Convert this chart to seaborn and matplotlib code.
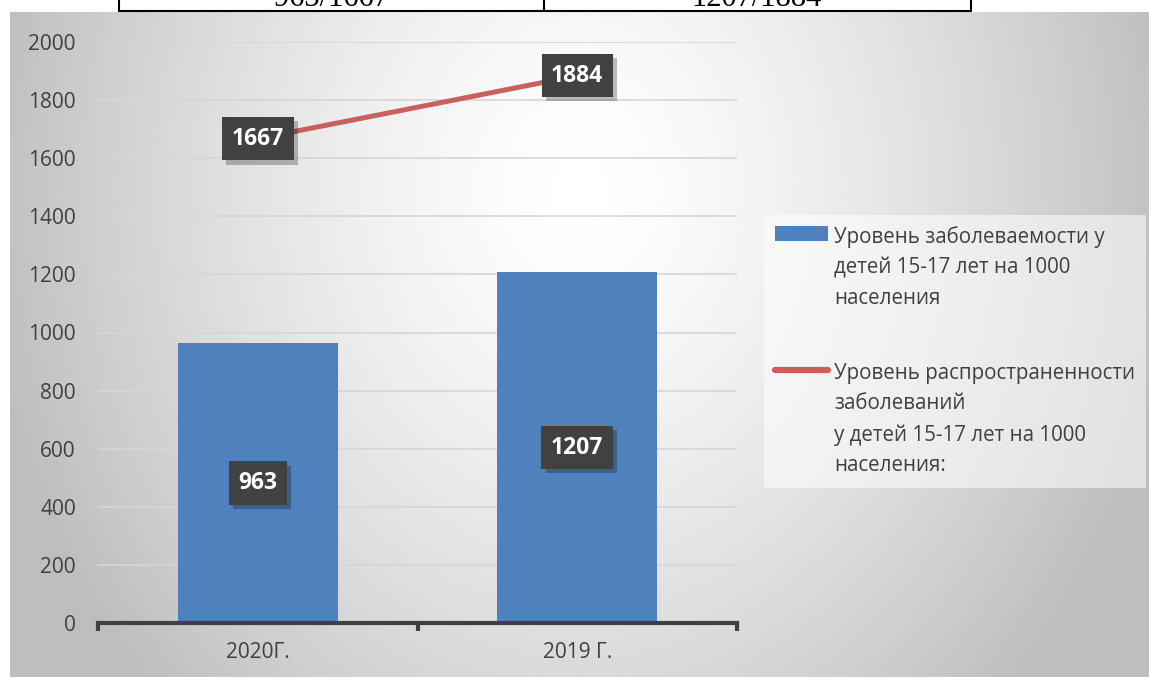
import numpy as np
import matplotlib
matplotlib.use("Agg")
import matplotlib.pyplot as plt
import seaborn as sns
import matplotlib.patheffects as pe
from matplotlib.lines import Line2D
from matplotlib.patches import Patch

# ---------------- data ----------------
years = ["2020Г.", "2019 Г."]
incidence = [963, 1207]
prevalence = [1667, 1884]
series_names = [
    "Уровень заболеваемости у\nдетей 15-17 лет на 1000\nнаселения",
    "Уровень распространенности\nзаболеваний\nу детей 15-17 лет на 1000\nнаселения:",
]
table_cells = ["963/1667", "1207/1884"]
yticks = list(range(0, 2001, 200))

BAR_COLOR = "#4f81bd"
LINE_COLOR = "#c9605c"
TEXT_COLOR = "#404040"

sns.set_theme(style="white")
plt.rcParams["font.family"] = ["Open Sans", "DejaVu Sans"]

W, H = 1149, 677
fig = plt.figure(figsize=(W / 100, H / 100), dpi=100)
fig.patch.set_facecolor("white")

# ---------------- gradient background ----------------
bg = fig.add_axes([10 / W, 0, 1 - 10 / W, (H - 12) / H], zorder=-10)
xs = np.linspace(10, W, 400)
ys = np.linspace(12, H, 300)
X, Y = np.meshgrid(xs, ys)
r = np.sqrt(((X - 580) / 600) ** 2 + ((Y - 190) / 720) ** 2)
v = (255 - 65 * np.clip(r, 0, 1) ** 1.4) / 255
bg.imshow(v, cmap="gray", vmin=0, vmax=1, aspect="auto", interpolation="bilinear")
bg.set_axis_off()

# ---------------- top table fragment ----------------
lw_tab = 1.5
fig.add_artist(Line2D([119 / W, 971 / W], [1 - 11 / H, 1 - 11 / H], transform=fig.transFigure, color="black", lw=lw_tab))
for xp in (119, 544, 971):
    fig.add_artist(Line2D([xp / W, xp / W], [1 - 11 / H, 1.0], transform=fig.transFigure, color="black", lw=lw_tab))
for xc, txt in zip((331, 757), table_cells):
    fig.text(xc / W, 1 - 6 / H, txt, ha="center", va="baseline", fontsize=22,
             family=["Liberation Serif", "DejaVu Serif"], color="black")

# ---------------- main axes ----------------
ax = fig.add_axes([98 / W, 1 - 623 / H, (737 - 98) / W, (623 - 42) / H])
ax.patch.set_alpha(0)

sns.barplot(x=years, y=incidence, color=BAR_COLOR, saturation=1, width=0.5, ax=ax,
            zorder=2, linewidth=0, edgecolor="none")
line, = ax.plot(range(len(years)), prevalence, color=LINE_COLOR, lw=3.6, solid_capstyle="round", zorder=3)

ax.set_xlim(-0.5, 1.5)
ax.set_ylim(0, 2000)
ax.set_yticks(yticks)
ax.set_xticks(range(len(years)), years)
ax.set_xticks([-0.5, 0.5, 1.5], minor=True)

ax.yaxis.grid(True, color="#d6d6d6", lw=1.2)
ax.xaxis.grid(False)
ax.set_axisbelow(True)
for s in ("top", "right", "left"):
    ax.spines[s].set_visible(False)
ax.spines["bottom"].set_color(TEXT_COLOR)
ax.spines["bottom"].set_linewidth(3)
ax.spines["bottom"].set_zorder(4)

ax.tick_params(axis="y", left=False, length=0, pad=16, labelsize=15, labelcolor=TEXT_COLOR)
ax.tick_params(axis="x", which="major", bottom=False, length=0, pad=14, labelsize=15, labelcolor=TEXT_COLOR)
ax.tick_params(axis="x", which="minor", bottom=True, length=6, width=3, color=TEXT_COLOR, direction="out")
ax.set_xlabel("")
ax.set_ylabel("")


def label(x, y, val):
    t = ax.text(x, y, str(val), ha="center", va="center", color="white", fontsize=16.5,
                fontweight="bold", zorder=6,
                bbox=dict(boxstyle="square,pad=0.42", facecolor="#414141", edgecolor="none", lw=0))
    t.get_bbox_patch().set_path_effects([pe.SimplePatchShadow(offset=(3, -3), shadow_rgbFace="black", alpha=0.25),
                                         pe.Normal()])


for i, val in enumerate(prevalence):
    label(i, val, val)
for i, val in enumerate(incidence):
    label(i, val / 2, val)

# ---------------- legend ----------------
handles = [Patch(facecolor=BAR_COLOR, edgecolor="none"),
           Line2D([0], [0], color=LINE_COLOR, lw=4.5, solid_capstyle="round")]
leg = fig.legend(handles, series_names, loc="upper left",
                 bbox_to_anchor=(764 / W, 1 - 215 / H), bbox_transform=fig.transFigure,
                 borderaxespad=0, fontsize=14.8, frameon=True, fancybox=False,
                 handlelength=2.55, handleheight=0.7, handletextpad=0.3,
                 labelspacing=2.6, borderpad=0.55, labelcolor=TEXT_COLOR)
leg.get_frame().set_facecolor("white")
leg.get_frame().set_alpha(0.55)
leg.get_frame().set_edgecolor("none")
for t in leg.get_texts():
    t.set_linespacing(1.6)
try:
    for col in leg._legend_handle_box.get_children():
        for item in col.get_children():
            item.align = "top"
except Exception:
    pass

fig.savefig("out.png", dpi=100)
